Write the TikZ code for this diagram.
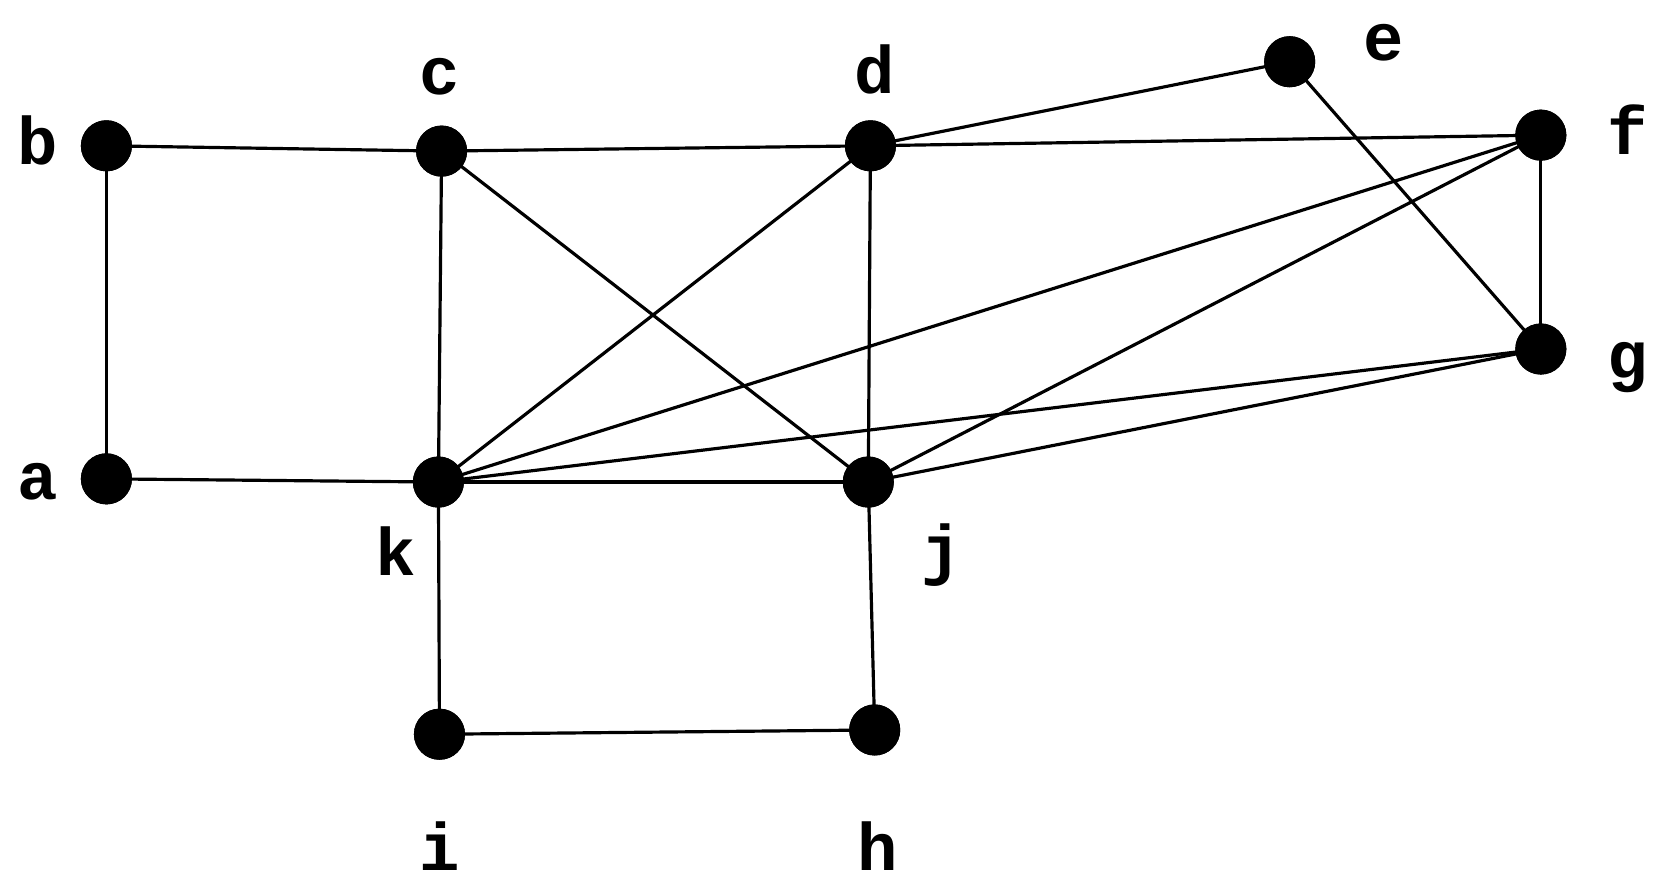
\documentclass[tikz,border=0pt]{standalone}
\usepackage{fontspec}
\setmonofont{Liberation Mono}
\begin{document}
\begin{tikzpicture}[x=0.02cm,y=-0.02cm,
  dot/.style={circle,fill=black,inner sep=0pt,minimum size=0.96cm},
  lab/.style={font=\ttfamily\bfseries\fontsize{36}{36}\selectfont},
  edge/.style={line width=1.7pt}]
\useasboundingbox (0,0) rectangle (1560,836);
\node[dot] (b) at (100,137) {};
\node[dot] (c) at (415,142) {};
\node[dot] (d) at (818,137) {};
\node[dot] (e) at (1212,58) {};
\node[dot] (f) at (1448,127) {};
\node[dot] (g) at (1448,328) {};
\node[dot] (a) at (100,450) {};
\node[dot] (k) at (412,453) {};
\node[dot] (j) at (816,453) {};
\node[dot] (i) at (413,690) {};
\node[dot] (h) at (822,686) {};
\node[lab] (lb) at (35,132) {b};
\node[lab] (lc) at (413,72) {c};
\node[lab] (ld) at (822,65) {d};
\node[lab] (le) at (1300,40) {e};
\node[lab] (lf) at (1530,122) {f};
\node[lab] (lg) at (1530,345) {g};
\node[lab] (la) at (35,453) {a};
\node[lab] (lk) at (372,518) {k};
\node[lab] (lj) at (885,522) {j};
\node[lab] (li) at (413,795) {i};
\node[lab] (lh) at (825,795) {h};
\begin{scope}[on background layer/.try]
\foreach \u/\v in {a/b,b/c,c/d,d/f,d/e,e/g,f/g,c/k,c/j,d/k,d/j,f/k,f/j,g/k,g/j,a/k,k/j,k/i,j/h,i/h}
  \draw[edge] (\u.center) -- (\v.center);
\end{scope}
\foreach \n in {a,b,c,d,e,f,g,h,i,j,k} \node[dot] at (\n) {};
\end{tikzpicture}
\end{document}
